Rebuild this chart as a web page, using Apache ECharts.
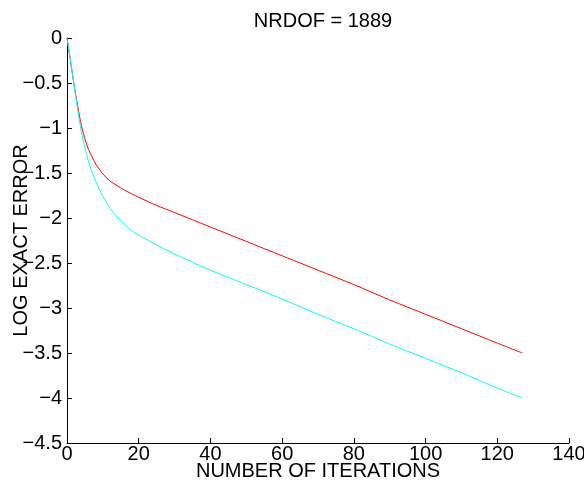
<!DOCTYPE html>
<html>
<head>
<meta charset="utf-8">
<script src="https://cdn.jsdelivr.net/npm/echarts@6/dist/echarts.min.js"></script>
<style>
  html, body { margin: 0; padding: 0; background: #fff; }
  #chart { width: 584px; height: 483px; }
</style>
</head>
<body>
<div id="chart"></div>
<script>
// iterations
const iterations = [0, 1, 2, 3, 4, 5, 6, 7, 8, 10, 12, 14, 16, 18, 20, 25, 30, 40, 50, 60, 70, 80, 90, 100, 110, 120, 127]
const redErr = [0, -0.26, -0.53, -0.76, -0.97, -1.12, -1.24, -1.32, -1.40, -1.51, -1.59, -1.64, -1.69, -1.73, -1.77, -1.86, -1.94, -2.10, -2.26, -2.42, -2.58, -2.74, -2.91, -3.07, -3.23, -3.39, -3.50]
const cyanErr = [0, -0.26, -0.53, -0.80, -1.04, -1.22, -1.37, -1.49, -1.59, -1.76, -1.89, -1.99, -2.07, -2.14, -2.19, -2.30, -2.40, -2.58, -2.74, -2.90, -3.07, -3.23, -3.40, -3.56, -3.72, -3.89, -4.00]

const font = '"Liberation Sans", Arial, sans-serif'
const minus = v => String(v).replace('-', '\u2212')

const chart = echarts.init(document.getElementById('chart'), null, { renderer: 'canvas' })

const axisCommon = {
  axisLine: { onZero: false, lineStyle: { color: '#000', width: 1 } },
  axisTick: { inside: true, length: 5, lineStyle: { color: '#000' } },
  splitLine: { show: false },
  axisLabel: { color: '#000', fontFamily: font, fontSize: 20, formatter: minus },
  nameTextStyle: { color: '#000', fontFamily: font, fontSize: 20 }
}

chart.setOption({
  animation: false,
  backgroundColor: '#fff',
  title: {
    text: 'NRDOF = 1889',
    left: 318,
    top: 6,
    textAlign: 'center',
    textStyle: { color: '#000', fontFamily: font, fontSize: 20, fontWeight: 'normal' }
  },
  grid: { left: 67, right: 15, top: 38, bottom: 40, outerBoundsMode: 'none', containLabel: false },
  xAxis: Object.assign({}, axisCommon, {
    type: 'value',
    min: 0,
    max: 140,
    interval: 20,
    name: 'NUMBER OF ITERATIONS',
    nameLocation: 'middle',
    nameGap: 18,
    nameMoveOverlap: false,
    axisLabel: Object.assign({}, axisCommon.axisLabel, { margin: 1 })
  }),
  yAxis: Object.assign({}, axisCommon, {
    type: 'value',
    min: -4.5,
    max: 0,
    interval: 0.5,
    name: 'LOG EXACT ERROR',
    nameLocation: 'middle',
    nameGap: 36,
    nameMoveOverlap: false,
    axisLabel: Object.assign({}, axisCommon.axisLabel, { margin: 5 })
  }),
  series: [
    {
      type: 'line',
      data: iterations.map((x, i) => [x, redErr[i]]),
      showSymbol: false,
      smooth: 0.3,
      lineStyle: { color: '#ff0000', width: 1 }
    },
    {
      type: 'line',
      data: iterations.map((x, i) => [x, cyanErr[i]]),
      showSymbol: false,
      smooth: 0.3,
      lineStyle: { color: '#00ffff', width: 1 }
    }
  ]
})
</script>
</body>
</html>
